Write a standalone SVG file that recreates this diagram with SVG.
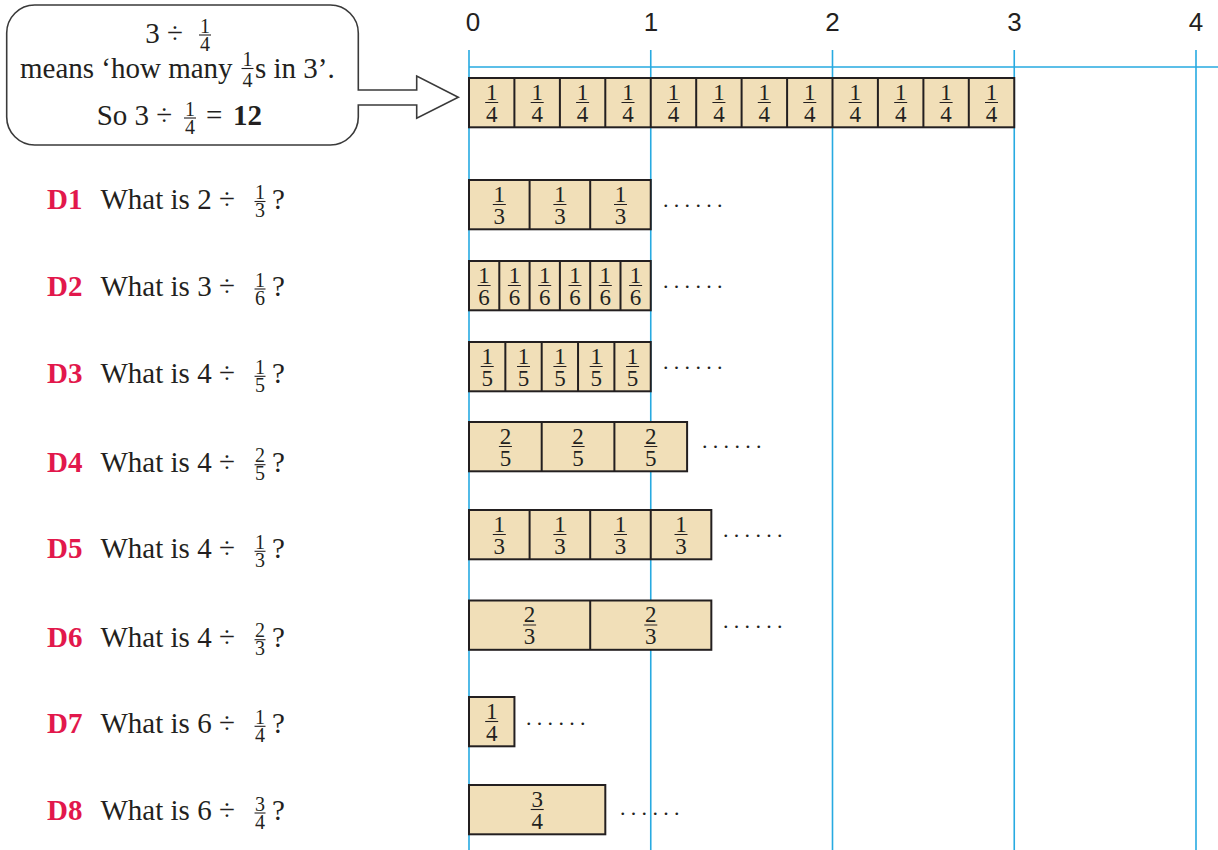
<svg xmlns="http://www.w3.org/2000/svg" width="1218" height="850" viewBox="0 0 1218 850">
<style>
.grid{stroke:#27aae1;stroke-width:1.6;fill:none}
.axis{font-family:"Liberation Sans",Arial,sans-serif;font-size:26px;fill:#231f20;text-anchor:middle}
.bar{fill:#f1dfb8;stroke:#231f20;stroke-width:2}
.div{stroke:#231f20;stroke-width:2;fill:none}
.fn{font-family:"Liberation Serif","Times New Roman",serif;font-size:23px;fill:#231f20;text-anchor:middle}
.fl{stroke:#231f20;stroke-width:1.1;fill:none}
.lbl{font-family:"Liberation Serif","Times New Roman",serif;font-size:29px;fill:#231f20}
.dn{font-weight:bold;fill:#e2184c}
.ifn{font-family:"Liberation Serif","Times New Roman",serif;font-size:20px;fill:#231f20;text-anchor:middle}
.dots{font-family:"Liberation Serif","Times New Roman",serif;font-size:22px;fill:#231f20;letter-spacing:5.3px}
.call{fill:#fff;stroke:#3a3a3a;stroke-width:1.6}
.ct{font-family:"Liberation Serif","Times New Roman",serif;font-size:29px;fill:#231f20}
</style>

<g id="connectors">
  <path class="grid" d="M469 50V850M650.75 50V850M832.5 50V850M1014.25 50V850M1196 50V850M469 67H1218"/>
</g>

<g id="axis">
  <text class="axis" x="473" y="31">0</text>
  <text class="axis" x="651" y="31">1</text>
  <text class="axis" x="832.5" y="31">2</text>
  <text class="axis" x="1014.5" y="31">3</text>
  <text class="axis" x="1196" y="31">4</text>
</g>

<g id="callout">
  <path class="call" d="M358.3 105V117A28 28 0 0 1 330.3 145H34.7A28 28 0 0 1 6.7 117V33A28 28 0 0 1 34.7 5H330.3A28 28 0 0 1 358.3 33V90H416.7V76L458.3 97.3L416.7 118.3V105Z"/>
  <text class="ct" x="183" y="43.3" text-anchor="end">3 ÷</text>
  <text class="ifn"><tspan x="205" y="32.5">1</tspan><tspan x="205" y="50.5">4</tspan></text>
  <path class="fl" d="M199 35h12"/>
  <text class="ct" x="20" y="78">means ‘how many</text>
  <text class="ifn"><tspan x="247.5" y="66.3">1</tspan><tspan x="247.5" y="86.5">4</tspan></text>
  <path class="fl" d="M241.5 68.5h12"/>
  <text class="ct" x="255" y="78">s in 3’.</text>
  <text class="ct" x="96.7" y="125">So 3 ÷</text>
  <text class="ifn"><tspan x="190" y="115.5">1</tspan><tspan x="190" y="134">4</tspan></text>
  <path class="fl" d="M184 118h12"/>
  <text class="ct" x="206" y="125">=</text>
  <text class="ct" x="233" y="125" font-weight="bold">12</text>
</g>

<g id="bar-top">
  <rect class="bar" x="469" y="78" width="545.25" height="49.3"/>
  <path class="div" d="M514.4 78v49.3M559.9 78v49.3M605.3 78v49.3M650.75 78v49.3M696.2 78v49.3M741.6 78v49.3M787.1 78v49.3M832.5 78v49.3M877.9 78v49.3M923.4 78v49.3M968.8 78v49.3"/>
  <path class="fl" d="M485.2 102.5h13M530.7 102.5h13M576.1 102.5h13M621.5 102.5h13M667 102.5h13M712.4 102.5h13M757.8 102.5h13M803.3 102.5h13M848.7 102.5h13M894.2 102.5h13M939.6 102.5h13M985 102.5h13"/>
  <text class="fn"><tspan x="491.7" y="99.5">1</tspan><tspan x="491.7" y="121.5">4</tspan></text>
  <text class="fn"><tspan x="537.2" y="99.5">1</tspan><tspan x="537.2" y="121.5">4</tspan></text>
  <text class="fn"><tspan x="582.6" y="99.5">1</tspan><tspan x="582.6" y="121.5">4</tspan></text>
  <text class="fn"><tspan x="628" y="99.5">1</tspan><tspan x="628" y="121.5">4</tspan></text>
  <text class="fn"><tspan x="673.5" y="99.5">1</tspan><tspan x="673.5" y="121.5">4</tspan></text>
  <text class="fn"><tspan x="718.9" y="99.5">1</tspan><tspan x="718.9" y="121.5">4</tspan></text>
  <text class="fn"><tspan x="764.3" y="99.5">1</tspan><tspan x="764.3" y="121.5">4</tspan></text>
  <text class="fn"><tspan x="809.8" y="99.5">1</tspan><tspan x="809.8" y="121.5">4</tspan></text>
  <text class="fn"><tspan x="855.2" y="99.5">1</tspan><tspan x="855.2" y="121.5">4</tspan></text>
  <text class="fn"><tspan x="900.7" y="99.5">1</tspan><tspan x="900.7" y="121.5">4</tspan></text>
  <text class="fn"><tspan x="946.1" y="99.5">1</tspan><tspan x="946.1" y="121.5">4</tspan></text>
  <text class="fn"><tspan x="991.5" y="99.5">1</tspan><tspan x="991.5" y="121.5">4</tspan></text>
</g>

<g id="d1">
  <text class="lbl" x="47" y="208.5"><tspan class="dn">D1</tspan></text>
  <text class="lbl" x="100.5" y="208.5">What is 2 ÷</text>
  <text class="ifn"><tspan x="260" y="199">1</tspan><tspan x="260" y="217">3</tspan></text>
  <path class="fl" d="M254.5 201.5h11"/>
  <text class="lbl" x="272" y="208.5">?</text>
  <rect class="bar" x="469" y="180" width="181.75" height="49.3"/>
  <path class="div" d="M529.6 180v49.3M590.2 180v49.3"/>
  <path class="fl" d="M492.8 204.5h13M553.4 204.5h13M614 204.5h13"/>
  <text class="fn"><tspan x="499.3" y="201.5">1</tspan><tspan x="499.3" y="223.5">3</tspan></text>
  <text class="fn"><tspan x="559.9" y="201.5">1</tspan><tspan x="559.9" y="223.5">3</tspan></text>
  <text class="fn"><tspan x="620.5" y="201.5">1</tspan><tspan x="620.5" y="223.5">3</tspan></text>
  <text class="dots" x="663" y="206.5">......</text>
</g>

<g id="d2">
  <text class="lbl" x="47" y="296"><tspan class="dn">D2</tspan></text>
  <text class="lbl" x="100.5" y="296">What is 3 ÷</text>
  <text class="ifn"><tspan x="260" y="286.5">1</tspan><tspan x="260" y="304.5">6</tspan></text>
  <path class="fl" d="M254.5 289h11"/>
  <text class="lbl" x="272" y="296">?</text>
  <rect class="bar" x="469" y="261" width="181.75" height="49.3"/>
  <path class="div" d="M499.3 261v49.3M529.6 261v49.3M559.9 261v49.3M590.2 261v49.3M620.5 261v49.3"/>
  <path class="fl" d="M477.6 285.5h13M507.9 285.5h13M538.2 285.5h13M568.5 285.5h13M598.8 285.5h13M629.1 285.5h13"/>
  <text class="fn"><tspan x="484.1" y="282.5">1</tspan><tspan x="484.1" y="304.5">6</tspan></text>
  <text class="fn"><tspan x="514.4" y="282.5">1</tspan><tspan x="514.4" y="304.5">6</tspan></text>
  <text class="fn"><tspan x="544.7" y="282.5">1</tspan><tspan x="544.7" y="304.5">6</tspan></text>
  <text class="fn"><tspan x="575" y="282.5">1</tspan><tspan x="575" y="304.5">6</tspan></text>
  <text class="fn"><tspan x="605.3" y="282.5">1</tspan><tspan x="605.3" y="304.5">6</tspan></text>
  <text class="fn"><tspan x="635.6" y="282.5">1</tspan><tspan x="635.6" y="304.5">6</tspan></text>
  <text class="dots" x="663" y="288">......</text>
</g>

<g id="d3">
  <text class="lbl" x="47" y="383.3"><tspan class="dn">D3</tspan></text>
  <text class="lbl" x="100.5" y="383.3">What is 4 ÷</text>
  <text class="ifn"><tspan x="260" y="373.8">1</tspan><tspan x="260" y="391.8">5</tspan></text>
  <path class="fl" d="M254.5 376.3h11"/>
  <text class="lbl" x="272" y="383.3">?</text>
  <rect class="bar" x="469" y="342" width="181.75" height="49.3"/>
  <path class="div" d="M505.35 342v49.3M541.7 342v49.3M578.05 342v49.3M614.4 342v49.3"/>
  <path class="fl" d="M480.7 366.5h13M517 366.5h13M553.4 366.5h13M589.7 366.5h13M626.1 366.5h13"/>
  <text class="fn"><tspan x="487.2" y="363.5">1</tspan><tspan x="487.2" y="385.5">5</tspan></text>
  <text class="fn"><tspan x="523.5" y="363.5">1</tspan><tspan x="523.5" y="385.5">5</tspan></text>
  <text class="fn"><tspan x="559.9" y="363.5">1</tspan><tspan x="559.9" y="385.5">5</tspan></text>
  <text class="fn"><tspan x="596.2" y="363.5">1</tspan><tspan x="596.2" y="385.5">5</tspan></text>
  <text class="fn"><tspan x="632.6" y="363.5">1</tspan><tspan x="632.6" y="385.5">5</tspan></text>
  <text class="dots" x="663" y="368.5">......</text>
</g>

<g id="d4">
  <text class="lbl" x="47" y="471.7"><tspan class="dn">D4</tspan></text>
  <text class="lbl" x="100.5" y="471.7">What is 4 ÷</text>
  <text class="ifn"><tspan x="260" y="462.2">2</tspan><tspan x="260" y="480.2">5</tspan></text>
  <path class="fl" d="M254.5 464.7h11"/>
  <text class="lbl" x="272" y="471.7">?</text>
  <rect class="bar" x="469" y="422" width="218.1" height="49.3"/>
  <path class="div" d="M541.7 422v49.3M614.4 422v49.3"/>
  <path class="fl" d="M498.9 446.5h13M571.6 446.5h13M644.3 446.5h13"/>
  <text class="fn"><tspan x="505.4" y="443.5">2</tspan><tspan x="505.4" y="465.5">5</tspan></text>
  <text class="fn"><tspan x="578.1" y="443.5">2</tspan><tspan x="578.1" y="465.5">5</tspan></text>
  <text class="fn"><tspan x="650.8" y="443.5">2</tspan><tspan x="650.8" y="465.5">5</tspan></text>
  <text class="dots" x="702" y="448">......</text>
</g>

<g id="d5">
  <text class="lbl" x="47" y="558.3"><tspan class="dn">D5</tspan></text>
  <text class="lbl" x="100.5" y="558.3">What is 4 ÷</text>
  <text class="ifn"><tspan x="260" y="548.8">1</tspan><tspan x="260" y="566.8">3</tspan></text>
  <path class="fl" d="M254.5 551.3h11"/>
  <text class="lbl" x="272" y="558.3">?</text>
  <rect class="bar" x="469" y="510" width="242.33" height="49.3"/>
  <path class="div" d="M529.6 510v49.3M590.2 510v49.3M650.75 510v49.3"/>
  <path class="fl" d="M492.8 534.5h13M553.4 534.5h13M614 534.5h13M674.5 534.5h13"/>
  <text class="fn"><tspan x="499.3" y="531.5">1</tspan><tspan x="499.3" y="553.5">3</tspan></text>
  <text class="fn"><tspan x="559.9" y="531.5">1</tspan><tspan x="559.9" y="553.5">3</tspan></text>
  <text class="fn"><tspan x="620.5" y="531.5">1</tspan><tspan x="620.5" y="553.5">3</tspan></text>
  <text class="fn"><tspan x="681" y="531.5">1</tspan><tspan x="681" y="553.5">3</tspan></text>
  <text class="dots" x="723" y="537">......</text>
</g>

<g id="d6">
  <text class="lbl" x="47" y="646.7"><tspan class="dn">D6</tspan></text>
  <text class="lbl" x="100.5" y="646.7">What is 4 ÷</text>
  <text class="ifn"><tspan x="260" y="637.2">2</tspan><tspan x="260" y="655.2">3</tspan></text>
  <path class="fl" d="M254.5 639.7h11"/>
  <text class="lbl" x="272" y="646.7">?</text>
  <rect class="bar" x="469" y="600.5" width="242.33" height="49.3"/>
  <path class="div" d="M590.2 600.5v49.3"/>
  <path class="fl" d="M523.1 625h13M644.3 625h13"/>
  <text class="fn"><tspan x="529.6" y="622">2</tspan><tspan x="529.6" y="644">3</tspan></text>
  <text class="fn"><tspan x="650.8" y="622">2</tspan><tspan x="650.8" y="644">3</tspan></text>
  <text class="dots" x="723" y="627.5">......</text>
</g>

<g id="d7">
  <text class="lbl" x="47" y="733.3"><tspan class="dn">D7</tspan></text>
  <text class="lbl" x="100.5" y="733.3">What is 6 ÷</text>
  <text class="ifn"><tspan x="260" y="723.8">1</tspan><tspan x="260" y="741.8">4</tspan></text>
  <path class="fl" d="M254.5 726.3h11"/>
  <text class="lbl" x="272" y="733.3">?</text>
  <rect class="bar" x="469" y="697" width="45.44" height="49.3"/>
  <path class="fl" d="M485.2 721.5h13"/>
  <text class="fn"><tspan x="491.7" y="718.5">1</tspan><tspan x="491.7" y="740.5">4</tspan></text>
  <text class="dots" x="526" y="724.5">......</text>
</g>

<g id="d8">
  <text class="lbl" x="47" y="820"><tspan class="dn">D8</tspan></text>
  <text class="lbl" x="100.5" y="820">What is 6 ÷</text>
  <text class="ifn"><tspan x="260" y="810.5">3</tspan><tspan x="260" y="828.5">4</tspan></text>
  <path class="fl" d="M254.5 813h11"/>
  <text class="lbl" x="272" y="820">?</text>
  <rect class="bar" x="469" y="785" width="136.31" height="49.3"/>
  <path class="fl" d="M530.7 809.5h13"/>
  <text class="fn"><tspan x="537.2" y="806.5">3</tspan><tspan x="537.2" y="828.5">4</tspan></text>
  <text class="dots" x="620" y="814.5">......</text>
</g>
</svg>
